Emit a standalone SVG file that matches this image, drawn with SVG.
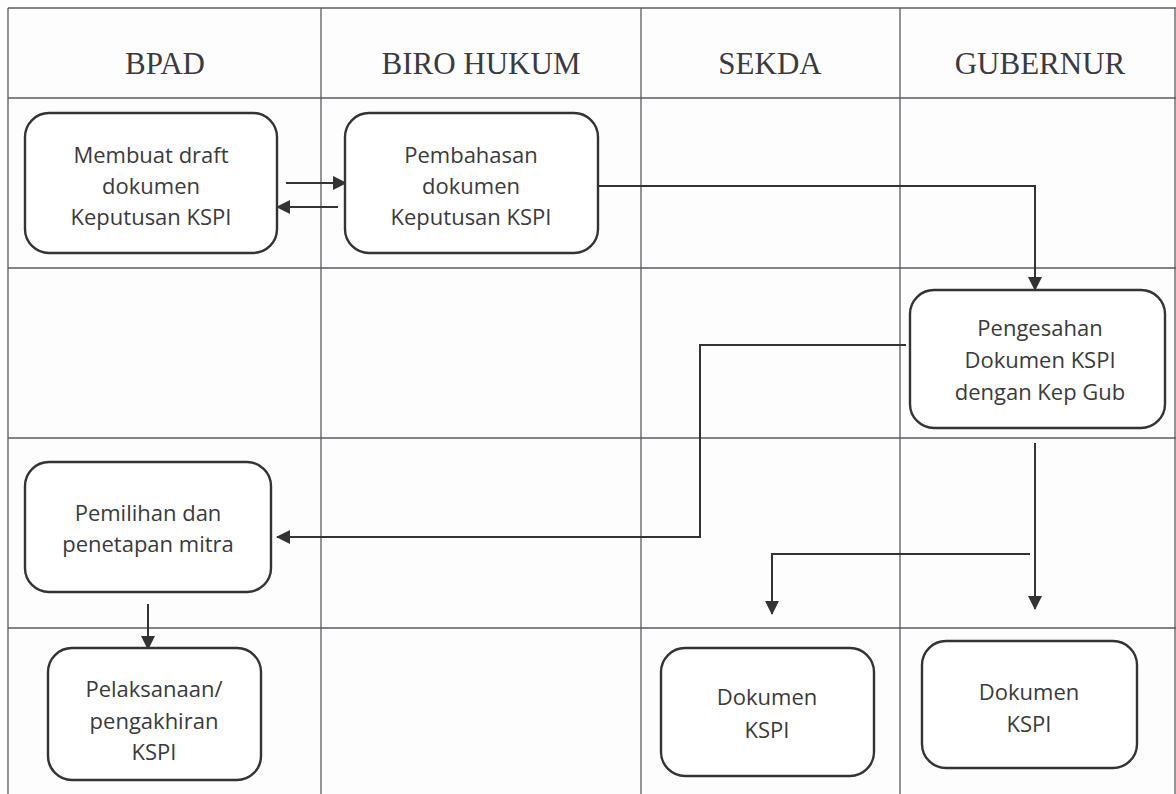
<svg xmlns="http://www.w3.org/2000/svg" width="1176" height="794" viewBox="0 0 1176 794">
<defs>
<marker id="ah" viewBox="0 0 14 14" refX="13" refY="7" markerWidth="14" markerHeight="14" markerUnits="userSpaceOnUse" orient="auto">
<path d="M0,0 L14,7 L0,14 z" fill="#333"/>
</marker>
<style>
.grid{stroke:#5a5a62;stroke-width:1.3;fill:none}
.hd{font-family:"Liberation Serif",serif;font-size:31px;fill:#3a3a40;text-anchor:middle}
.box{fill:#fff;stroke:#333;stroke-width:2.4}
.t{font-family:"Open Sans","Liberation Sans",sans-serif;font-size:22px;font-weight:500;fill:#3a3a3a;text-anchor:middle}
.c{stroke:#333;stroke-width:2;fill:none}
</style>
</defs>
<rect width="1176" height="794" fill="#fdfdfd"/>
<g id="grid">
<line class="grid" x1="8" y1="8" x2="1176" y2="8"/>
<line class="grid" x1="8" y1="98" x2="1176" y2="98"/>
<line class="grid" x1="8" y1="268" x2="1176" y2="268"/>
<line class="grid" x1="8" y1="438" x2="1176" y2="438"/>
<line class="grid" x1="8" y1="628" x2="1176" y2="628"/>
<line class="grid" x1="8" y1="8" x2="8" y2="794"/>
<line class="grid" x1="321" y1="8" x2="321" y2="794"/>
<line class="grid" x1="641" y1="8" x2="641" y2="794"/>
<line class="grid" x1="900" y1="8" x2="900" y2="794"/>
<line class="grid" x1="1175" y1="8" x2="1175" y2="794"/>
</g>
<g id="headers">
<text class="hd" x="165" y="74">BPAD</text>
<text class="hd" x="481" y="74">BIRO HUKUM</text>
<text class="hd" x="770" y="74">SEKDA</text>
<text class="hd" x="1040" y="74">GUBERNUR</text>
</g>
<g id="connectors">
<line class="c" x1="286" y1="183" x2="346" y2="183" marker-end="url(#ah)"/>
<line class="c" x1="338" y1="207" x2="277" y2="207" marker-end="url(#ah)"/>
<polyline class="c" points="596,186 1035,186 1035,290" marker-end="url(#ah)"/>
<polyline class="c" points="906,345 700,345 700,537 277,537" marker-end="url(#ah)"/>
<line class="c" x1="1035" y1="443" x2="1035" y2="609" marker-end="url(#ah)"/>
<polyline class="c" points="1030,554 772,554 772,614" marker-end="url(#ah)"/>
<line class="c" x1="148" y1="604" x2="148" y2="649" marker-end="url(#ah)"/>
</g>
<g id="n1">
<rect class="box" x="25" y="113" width="252" height="140" rx="24"/>
<text class="t" x="151" y="163">Membuat draft</text>
<text class="t" x="151" y="194">dokumen</text>
<text class="t" x="151" y="225">Keputusan KSPI</text>
</g>
<g id="n2">
<rect class="box" x="345" y="113" width="253" height="140" rx="24"/>
<text class="t" x="471" y="163">Pembahasan</text>
<text class="t" x="471" y="194">dokumen</text>
<text class="t" x="471" y="225">Keputusan KSPI</text>
</g>
<g id="n3">
<rect class="box" x="910" y="290" width="255" height="138" rx="24"/>
<text class="t" x="1040" y="336">Pengesahan</text>
<text class="t" x="1040" y="368">Dokumen KSPI</text>
<text class="t" x="1040" y="400">dengan Kep Gub</text>
</g>
<g id="n4">
<rect class="box" x="25" y="462" width="246" height="130" rx="24"/>
<text class="t" x="148" y="521">Pemilihan dan</text>
<text class="t" x="148" y="552">penetapan mitra</text>
</g>
<g id="n5">
<rect class="box" x="48" y="648" width="213" height="132" rx="24"/>
<text class="t" x="154" y="697">Pelaksanaan/</text>
<text class="t" x="154" y="729">pengakhiran</text>
<text class="t" x="154" y="760">KSPI</text>
</g>
<g id="n6">
<rect class="box" x="661" y="648" width="213" height="128" rx="24"/>
<text class="t" x="767" y="705">Dokumen</text>
<text class="t" x="767" y="738">KSPI</text>
</g>
<g id="n7">
<rect class="box" x="922" y="641" width="215" height="127" rx="24"/>
<text class="t" x="1029" y="700">Dokumen</text>
<text class="t" x="1029" y="732">KSPI</text>
</g>
</svg>
